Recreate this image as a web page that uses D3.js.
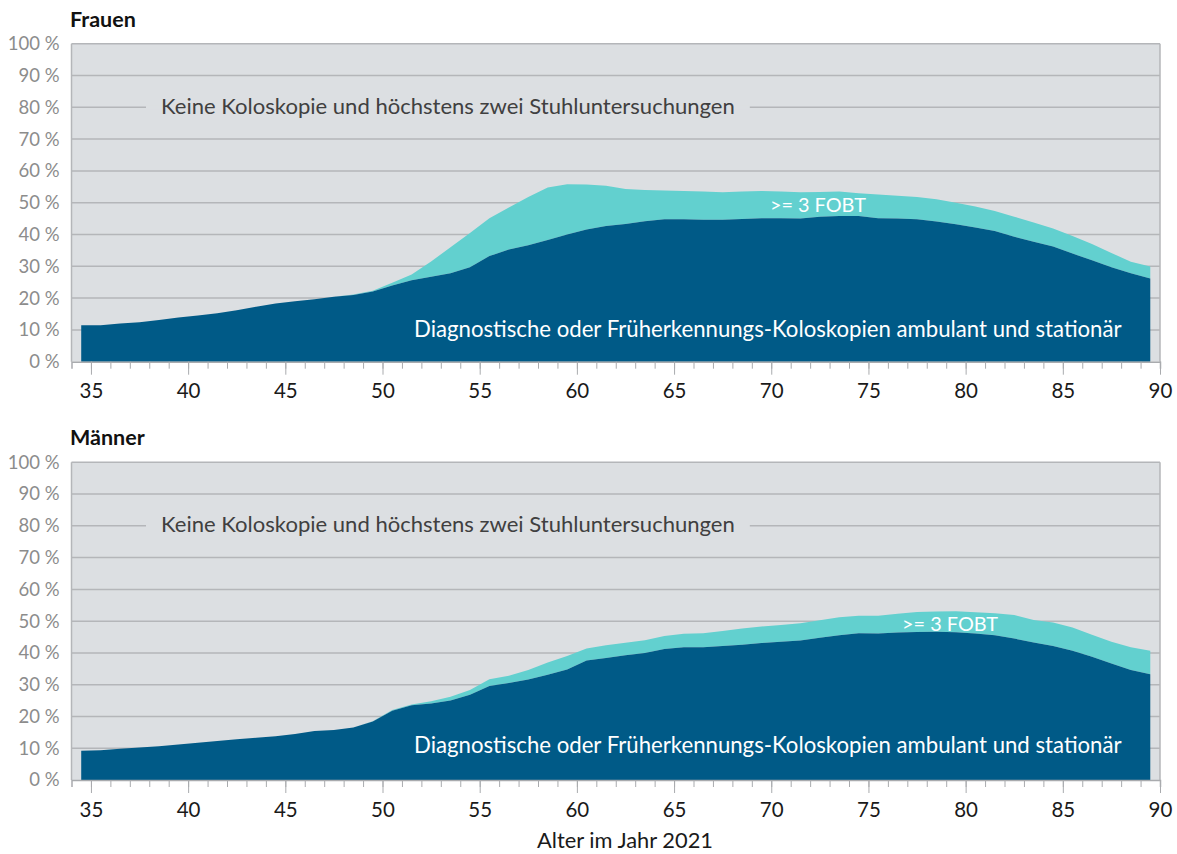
<!DOCTYPE html>
<html>
<head>
<meta charset="utf-8">
<script src="https://cdn.jsdelivr.net/npm/d3@7"></script>
<style>
  body { margin: 0; background: #fff; }
  text { font-family: Lato, "Open Sans", sans-serif; }
</style>
</head>
<body>
<div id="chart"></div>
<script>
// ages in 2021 (values drawn at the middle of each year)
var ages = [34, 35, 36, 37, 38, 39, 40, 41, 42, 43, 44, 45, 46, 47, 48, 49, 50, 51, 52, 53,
            54, 55, 56, 57, 58, 59, 60, 61, 62, 63, 64, 65, 66, 67, 68, 69, 70, 71, 72, 73,
            74, 75, 76, 77, 78, 79, 80, 81, 82, 83, 84, 85, 86, 87, 88, 89];

// share in % - colonoscopy (diagnostic or screening)
var frauenKolo = [11.5, 11.5, 12.0, 12.4, 13.1, 13.9, 14.5, 15.2, 16.2, 17.3, 18.3, 19.0, 19.6, 20.4, 21.0, 22.1, 24.0, 25.6, 26.7, 27.8,
                  29.7, 33.2, 35.3, 36.6, 38.3, 40.0, 41.6, 42.7, 43.3, 44.2, 44.8, 44.8, 44.6, 44.6, 44.9, 45.1, 45.1, 45.0, 45.6, 45.8,
                  45.8, 45.1, 45.0, 44.8, 44.1, 43.2, 42.2, 41.1, 39.3, 37.7, 36.2, 34.0, 31.9, 29.7, 27.8, 26.2];
// share in % - no colonoscopy but >= 3 FOBT
var frauenFobt = [0, 0, 0, 0, 0, 0, 0, 0, 0, 0, 0, 0, 0, 0, 0.1, 0.2, 0.8, 1.8, 4.8, 8.2,
                  10.8, 11.9, 13.2, 15.2, 16.5, 15.8, 14.1, 12.6, 11.0, 9.8, 9.0, 8.9, 8.9, 8.7, 8.6, 8.6, 8.4, 8.3, 7.8, 7.7,
                  7.2, 7.5, 7.2, 7.0, 7.0, 6.8, 6.6, 6.3, 6.3, 6.1, 5.7, 5.5, 5.1, 4.5, 3.6, 3.7];

var maennerKolo = [9.2, 9.4, 9.8, 10.2, 10.6, 11.2, 11.7, 12.3, 12.8, 13.3, 13.8, 14.5, 15.4, 15.7, 16.5, 18.4, 21.8, 23.5, 24.1, 25.0,
                   26.8, 29.6, 30.5, 31.6, 33.1, 34.8, 37.6, 38.4, 39.3, 40.0, 41.2, 41.8, 41.8, 42.2, 42.6, 43.1, 43.5, 43.9, 44.8, 45.6,
                   46.2, 46.1, 46.4, 46.6, 46.7, 46.5, 46.1, 45.6, 44.5, 43.3, 42.2, 40.7, 38.8, 36.7, 34.6, 33.3];
var maennerFobt = [0, 0, 0, 0, 0, 0, 0, 0, 0, 0, 0, 0, 0, 0, 0, 0.1, 0.2, 0.3, 0.7, 1.2,
                   1.5, 2.1, 2.3, 3.0, 3.9, 4.2, 3.8, 4.0, 3.9, 4.0, 4.1, 4.2, 4.4, 4.7, 5.1, 5.2, 5.3, 5.4, 5.5, 5.6,
                   5.5, 5.6, 5.9, 6.3, 6.3, 6.6, 6.7, 6.9, 7.4, 7.1, 7.4, 7.3, 6.9, 6.8, 7.2, 7.4];

var yTicks = [0, 10, 20, 30, 40, 50, 60, 70, 80, 90, 100];
var xMajor = [35, 40, 45, 50, 55, 60, 65, 70, 75, 80, 85, 90];
var xMinor = [35, 36, 37, 38, 39, 40, 41, 42, 43, 44, 45, 46, 47, 48, 49, 50, 51, 52, 53, 54, 55, 56, 57, 58, 59, 60, 61, 62,
              63, 64, 65, 66, 67, 68, 69, 70, 71, 72, 73, 74, 75, 76, 77, 78, 79, 80, 81, 82, 83, 84, 85, 86, 87, 88, 89, 90];

var labelKeine = 'Keine Koloskopie und höchstens zwei Stuhluntersuchungen';
var labelKolo = 'Diagnostische oder Früherkennungs-Koloskopien ambulant und stationär';
var labelFobt = '>= 3 FOBT';

var svgWidth = 1177;
var svgHeight = 854;

var left = 71.5, right = 1160;

var svg = d3.select('#chart')
  .append('svg')
  .attr('width', svgWidth)
  .attr('height', svgHeight);

var x = d3.scaleLinear().domain([34, 90]).range([left, right]);

// make a text exactly w pixels wide by changing its font size
function fitWidth(t, w) {
  var len = t.node().getComputedTextLength();
  var fs = parseFloat(t.attr('font-size'));
  t.attr('font-size', fs * w / len);
}

var panels = [
  { title: 'Frauen', kolo: frauenKolo, fobt: frauenFobt, top: 43.7, bottom: 361.7,
    fobtAge: 72.4, fobtY: 47.1, koloY: 7.9 },
  { title: 'Männer', kolo: maennerKolo, fobt: maennerFobt, top: 462.3, bottom: 780,
    fobtAge: 79.2, fobtY: 47.0, koloY: 8.4 }
];

panels.forEach(function(p) {
  var y = d3.scaleLinear().domain([0, 100]).range([p.bottom, p.top]);
  var g = svg.append('g');

  // plot background
  g.append('rect')
    .attr('x', left).attr('y', p.top)
    .attr('width', right - left).attr('height', p.bottom - p.top)
    .attr('fill', '#dcdfe2');

  // gridlines
  g.selectAll('.grid')
    .data(yTicks.slice(1))
    .enter().append('line')
    .attr('x1', left).attr('x2', right)
    .attr('y1', d => y(d)).attr('y2', d => y(d))
    .attr('stroke', '#b4b6b9')
    .attr('stroke-width', 1.5);

  // stacked areas
  var rows = ages.map(function(a, i) {
    return { age: a, kolo: p.kolo[i], fobt: p.fobt[i] };
  });
  var stack = d3.stack().keys(['kolo', 'fobt'])(rows);
  var colors = { kolo: '#005a87', fobt: '#62d0cf' };

  var area = d3.area()
    .x(d => x(d.data.age + 0.5))
    .y0(d => y(d[0]))
    .y1(d => y(d[1]));

  g.selectAll('.layer')
    .data(stack.slice().reverse())
    .enter().append('path')
    .attr('d', area)
    .attr('fill', d => colors[d.key]);

  // border left / right
  g.append('line').attr('x1', left).attr('x2', left).attr('y1', p.top).attr('y2', p.bottom)
    .attr('stroke', '#b4b6b9').attr('stroke-width', 1.5);
  g.append('line').attr('x1', right).attr('x2', right).attr('y1', p.top).attr('y2', p.bottom)
    .attr('stroke', '#b4b6b9').attr('stroke-width', 1.5);

  // x axis - minor and major ticks
  var minorAxis = d3.axisBottom(x).tickValues(xMinor).tickSize(7).tickFormat('');
  var majorAxis = d3.axisBottom(x).tickValues(xMajor).tickSize(13).tickPadding(9).tickFormat(d3.format('d'));

  g.append('g')
    .attr('transform', `translate(0, ${p.bottom})`)
    .call(minorAxis)
    .call(a => a.select('.domain').attr('stroke', '#a9abae').attr('stroke-width', 1.5))
    .call(a => a.selectAll('.tick line').attr('stroke', '#a9abae'));

  g.append('g')
    .attr('transform', `translate(0, ${p.bottom})`)
    .call(majorAxis)
    .call(a => a.select('.domain').remove())
    .call(a => a.selectAll('.tick line').attr('stroke', '#a9abae'))
    .call(a => a.selectAll('.tick text')
      .attr('font-size', 20.5)
      .attr('fill', '#1a1a1a')
      .style('font-family', 'Lato, "Open Sans", sans-serif'));

  // y axis
  g.append('g')
    .attr('transform', `translate(${left}, 0)`)
    .call(d3.axisLeft(y).tickValues(yTicks).tickSize(0).tickPadding(12).tickFormat(d => d + ' %'))
    .call(a => a.select('.domain').remove())
    .call(a => a.selectAll('.tick text')
      .attr('font-size', 18.5)
      .attr('fill', '#8c8c8c')
      .style('font-family', 'Lato, "Open Sans", sans-serif'));

  // panel title
  g.append('text')
    .attr('x', 70).attr('y', p.top - 17)
    .attr('font-size', 21.5)
    .attr('font-weight', 'bold')
    .attr('fill', '#111')
    .text(p.title);

  // label above the areas, sitting on the 80 % line
  var keine = g.append('text')
    .attr('x', 161).attr('y', y(80) + 6.5)
    .attr('font-size', 20)
    .attr('fill', '#404040')
    .text(labelKeine);
  fitWidth(keine, 574);
  var kb = keine.node().getBBox();
  g.insert('rect', () => keine.node())
    .attr('x', kb.x - 15).attr('y', y(80) - 2)
    .attr('width', kb.width + 30).attr('height', 4)
    .attr('fill', '#dcdfe2');

  var fobtText = g.append('text')
    .attr('x', x(p.fobtAge)).attr('y', y(p.fobtY))
    .attr('text-anchor', 'middle')
    .attr('font-size', 20)
    .attr('fill', '#fff')
    .text(labelFobt);
  fitWidth(fobtText, 96);

  var koloText = g.append('text')
    .attr('x', 414).attr('y', y(p.koloY))
    .attr('font-size', 20)
    .attr('fill', '#fff')
    .text(labelKolo);
  fitWidth(koloText, 708);
});

// x axis title
var xTitle = svg.append('text')
  .attr('x', 625).attr('y', 848)
  .attr('text-anchor', 'middle')
  .attr('font-size', 20)
  .attr('fill', '#1a1a1a')
  .text('Alter im Jahr 2021');
fitWidth(xTitle, 176);
</script>
</body>
</html>
